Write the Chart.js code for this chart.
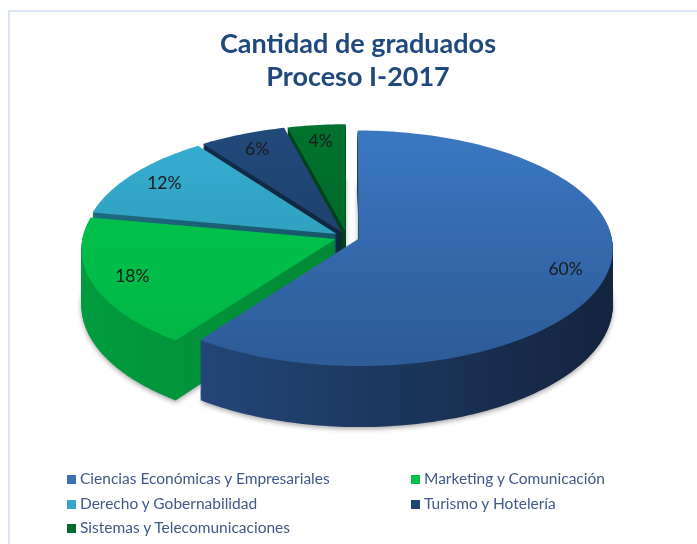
<!DOCTYPE html>
<html>
<head>
<meta charset="utf-8">
<script src="https://cdn.jsdelivr.net/npm/chart.js@4.4.1/dist/chart.umd.min.js"></script>
<style>
  body { margin: 0; background: #fff; }
  #wrap { position: relative; width: 697px; height: 544px; overflow: hidden; }
  #frame { position: absolute; left: 8px; top: 10px; width: 720px; height: 560px; border: 2px solid #dae6f5; box-sizing: border-box; }
  #chart { position: absolute; left: 0; top: 0; }
  #legend { position: absolute; left: 67px; top: 466px; display: grid; grid-template-columns: 344px auto;
            font: 15.5px Lato, sans-serif; line-height: 24.5px; color: #40598a; white-space: nowrap; }
  #legend span.box { display: inline-block; width: 9px; height: 9px; margin-right: 4px; vertical-align: 0px; }
</style>
</head>
<body>
<div id="wrap">
  <div id="frame"></div>
  <canvas id="chart" width="697" height="544"></canvas>
  <div id="legend"></div>
</div>
<script>
// Chart data
const categories = [
  "Ciencias Económicas y Empresariales",
  "Marketing y Comunicación",
  "Derecho y Gobernabilidad",
  "Turismo y Hotelería",
  "Sistemas y Telecomunicaciones"
];
const values = [60, 18, 12, 6, 4];

// Top face colours (light -> dark) and side colours (left -> right)
const topColors = [["#3c79c4", "#2d5c98"], ["#00c94e", "#00b545"], ["#36b0d4", "#2a90ab"], ["#224a7c", "#1a3860"], ["#00732e", "#005e25"]];
const sideColors = [["#274f88", "#14253f"], ["#009b3e", "#00742c"], ["#1d6a80", "#123f4d"], ["#13304f", "#0c1c31"], ["#004d1e", "#003514"]];
const legendColors = ["#3a70b5", "#00c24a", "#33a8c8", "#1f4474", "#006b2a"];

// Where the tilted pie lands on screen (e = perspective strength)
const view = { cx: 347, cy: 237, rx: 253, ry: 116.7, e: 0.081, depth: 56 };

// Fake 3D pie: project the library's arcs with a little perspective and stack them for the walls
const pie3d = {
  id: "pie3d",
  beforeDatasetsDraw(chart) {
    const ctx = chart.ctx;
    const arcs = chart.getDatasetMeta(0).data;
    const cx = arcs[0].x, cy = arcs[0].y, R = arcs[0].outerRadius;

    // chart coords -> screen, h = how far down the wall
    function project(x, y, h) {
      const u = (x - cx) / R, v = (y - cy) / R;
      const w = 1 / (1 - view.e * v);
      return [view.cx + view.rx * u * w, view.cy + view.ry * v * w + h * w];
    }

    function wedge(arc, h) {
      const mid = (arc.startAngle + arc.endAngle) / 2;
      const off = arc.options.offset || 0;
      const x = arc.x + Math.cos(mid) * off, y = arc.y + Math.sin(mid) * off;
      const steps = Math.max(4, Math.ceil((arc.endAngle - arc.startAngle) / 0.02));
      ctx.beginPath();
      let p = project(x, y, h);
      ctx.moveTo(p[0], p[1]);
      for (let s = 0; s <= steps; s++) {
        const a = arc.startAngle + (arc.endAngle - arc.startAngle) * s / steps;
        p = project(x + Math.cos(a) * arc.outerRadius, y + Math.sin(a) * arc.outerRadius, h);
        ctx.lineTo(p[0], p[1]);
      }
      ctx.closePath();
    }

    ctx.save();
    const sideFill = sideColors.map(c => {
      const g = ctx.createLinearGradient(view.cx - view.rx, 0, view.cx + view.rx, 0);
      g.addColorStop(0, c[0]);
      g.addColorStop(1, c[1]);
      return g;
    });
    const topFill = topColors.map(c => {
      const g = ctx.createLinearGradient(0, view.cy - view.ry, 0, view.cy + view.ry);
      g.addColorStop(0, c[0]);
      g.addColorStop(1, c[1]);
      return g;
    });

    // walls, from the bottom layer up
    for (let d = view.depth; d >= 1; d--) {
      if (d === view.depth) {
        ctx.shadowColor = "rgba(0,0,0,0.35)";
        ctx.shadowBlur = 5;
        ctx.shadowOffsetY = 2;
      }
      arcs.forEach((arc, i) => {
        wedge(arc, d);
        ctx.fillStyle = sideFill[i];
        ctx.fill();
      });
      ctx.shadowColor = "transparent";
      ctx.shadowBlur = 0;
      ctx.shadowOffsetY = 0;
    }

    // top faces
    arcs.forEach((arc, i) => {
      wedge(arc, 0);
      ctx.fillStyle = topFill[i];
      ctx.fill();
    });

    // percentage labels on the top faces
    ctx.font = "17.5px Lato, sans-serif";
    ctx.fillStyle = "#1a1a1a";
    ctx.textAlign = "center";
    ctx.textBaseline = "middle";
    arcs.forEach((arc, i) => {
      const mid = (arc.startAngle + arc.endAngle) / 2;
      const r = arc.outerRadius * 0.84 + (arc.options.offset || 0);
      const p = project(arc.x + Math.cos(mid) * r, arc.y + Math.sin(mid) * r, 0);
      ctx.fillText(values[i] + "%", p[0], p[1]);
    });
    ctx.restore();
    return false;
  }
};

new Chart(document.getElementById("chart"), {
  type: "pie",
  data: {
    labels: categories,
    datasets: [{
      data: values,
      backgroundColor: legendColors,
      borderWidth: 0,
      offset: 8
    }]
  },
  options: {
    responsive: false,
    animation: false,
    layout: { padding: { left: 19, bottom: 100 } },
    plugins: {
      legend: { display: false },
      tooltip: { enabled: false },
      title: {
        display: true,
        text: ["Cantidad de graduados", "Proceso I-2017"],
        color: "#1f497d",
        font: { family: "Lato", size: 27, weight: "bold", lineHeight: 1.22 },
        padding: { top: 28, bottom: 10 }
      }
    }
  },
  plugins: [pie3d]
});

// HTML legend in two columns
const legend = document.getElementById("legend");
categories.forEach((name, i) => {
  const item = document.createElement("div");
  item.innerHTML = '<span class="box" style="background:' + legendColors[i] + '"></span>' + name;
  legend.appendChild(item);
});
</script>
</body>
</html>
